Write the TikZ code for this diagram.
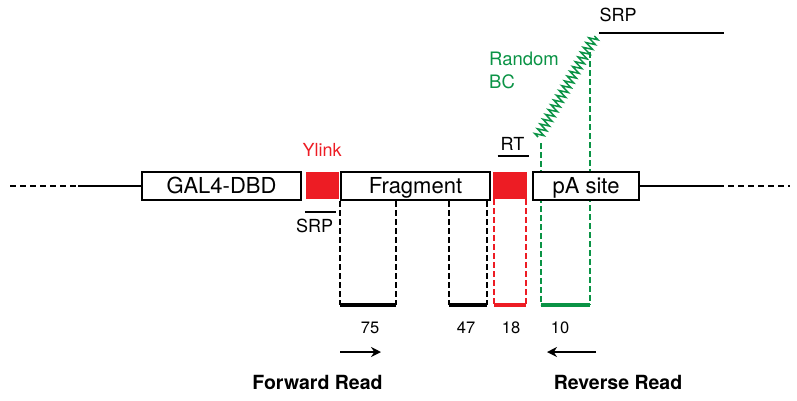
\documentclass[tikz,border=0pt]{standalone}
\usepackage{fontspec}
\setmainfont{TeX Gyre Heros}
\usepackage{xcolor}
\definecolor{linkred}{HTML}{ED1C24}
\definecolor{bcgreen}{HTML}{0A9345}
\usetikzlibrary{arrows.meta, decorations.pathmorphing, positioning, calc}

\begin{document}
\begin{tikzpicture}[x=1pt, y=-1pt, >=Stealth,
  part/.style={draw, line width=2.5pt, fill=white, minimum height=28pt,
        inner sep=0pt, text height=18pt, text depth=2.2pt,
        font=\fontsize{22}{24}\selectfont},
  linker/.style={fill=linkred, minimum width=33pt, minimum height=27pt, inner sep=0pt},
  tag/.style={inner sep=0pt, font=\fontsize{18}{20}\selectfont},
  count/.style={inner sep=0pt, font=\fontsize{16.5}{18}\selectfont},
  readname/.style={inner sep=0pt, font=\fontsize{19.5}{22}\selectfont\bfseries},
  guide/.style={line width=2.2pt, dash pattern=on 6pt off 3pt},
  readbar/.style={line width=4.5pt}]

  \useasboundingbox (0,0) rectangle (797,400);

  % backbone ends
  \coordinate (lend) at (10,186);
  \coordinate (lsolid) at (78,186);
  \coordinate (rsolid) at (718,186);
  \coordinate (rend) at (790,186);

  % read bars
  \coordinate (fa) at (340,305);
  \coordinate (fb) at (396,305);
  \coordinate (fc) at (449,305);
  \coordinate (fd) at (487,305);
  \coordinate (ra) at (494,305);
  \coordinate (rb) at (526,305);
  \coordinate (ga) at (541,305);
  \coordinate (gb) at (590,305);

  % barcode and top primer
  \coordinate (gtopa) at (541,143);
  \coordinate (gtopb) at (590,52);
  \coordinate (bcstart) at (538,137);
  \coordinate (bcend) at (595,36);
  \coordinate (srpa) at (599,33);
  \coordinate (srpb) at (724,33);

  \draw[guide, bcgreen] (gtopa) -- (ga);
  \draw[guide, bcgreen] (gtopb) -- (gb);
  \draw[bcgreen, line width=1.5pt, decorate,
        decoration={zigzag, segment length=5.5pt, amplitude=4.5pt}]
    (bcstart) -- (bcend);
  \draw[line width=2.2pt] (srpa) -- (srpb);
  \node[tag] (srptop) at (618,15) {SRP};

  \node[tag, bcgreen, align=left, anchor=west,
        font=\fontsize{18.5}{23}\selectfont] (bc) at (489,70.3) {Random\\BC};

  % construct
  \node[part, minimum width=159pt] (gal4) at (221.5,186) {GAL4-DBD};
  \node[linker] (ylink) at (322,185.5) {};
  \node[part, minimum width=149pt] (frag) at (415.5,186) {Fragment};
  \node[linker, minimum width=34pt] (rt) at (510,185.5) {};
  \node[part, minimum width=106pt] (pa) at (586,186) {pA site};

  \draw[line width=2.2pt, dash pattern=on 6pt off 4pt] (lend) -- (lsolid);
  \draw[line width=2.2pt] (lsolid) -- (gal4.west);
  \draw[line width=2.2pt] (pa.east) -- (rsolid);
  \draw[line width=2.2pt, dash pattern=on 6pt off 4pt] (rsolid) -- (rend);

  \node[tag, text=linkred] (ylinklab) at (322,150) {Ylink};
  \node[tag] (srpbot) at (314.5,226) {SRP};
  \draw[line width=1.6pt] ($(srpbot.north west)+(9,-7)$) -- ($(srpbot.north east)+(3,-7)$);
  \node[tag] (rtlab) at (512.5,144) {RT};
  \draw[line width=1.6pt] ($(rtlab.south west)+(-3,5)$) -- ($(rtlab.south east)+(5,5)$);

  % read windows
  \draw[guide] (fa |- frag.south) -- (fa);
  \draw[guide] (fb |- frag.south) -- (fb);
  \draw[guide] (fc |- frag.south) -- (fc);
  \draw[guide] (fd |- frag.south) -- (fd);
  \draw[guide, linkred] (ra |- rt.south) -- (ra);
  \draw[guide, linkred] (rb |- rt.south) -- (rb);

  \draw[readbar] (fa) -- (fb);
  \draw[readbar] (fc) -- (fd);
  \draw[readbar, linkred] (ra) -- (rb);
  \draw[readbar, bcgreen] (ga) -- (gb);

  \node[count] (n75) at (370,327.5) {75};
  \node[count] (n47) at (466,327.5) {47};
  \node[count] (n18) at (511,327.5) {18};
  \node[count] (n10) at (560,327.5) {10};

  % read directions
  \coordinate (fwa) at (340,352);
  \coordinate (fwb) at (381,352);
  \coordinate (rva) at (596,352);
  \coordinate (rvb) at (547,352);
  \draw[-{Stealth[length=10pt, width=10pt]}, line width=1.6pt] (fwa) -- (fwb);
  \draw[-{Stealth[length=10pt, width=10pt]}, line width=1.6pt] (rva) -- (rvb);

  \node[readname] (fwd) at (317.5,382.5) {Forward Read};
  \node[readname] (rev) at (618,382.5) {Reverse Read};

\end{tikzpicture}
\end{document}
